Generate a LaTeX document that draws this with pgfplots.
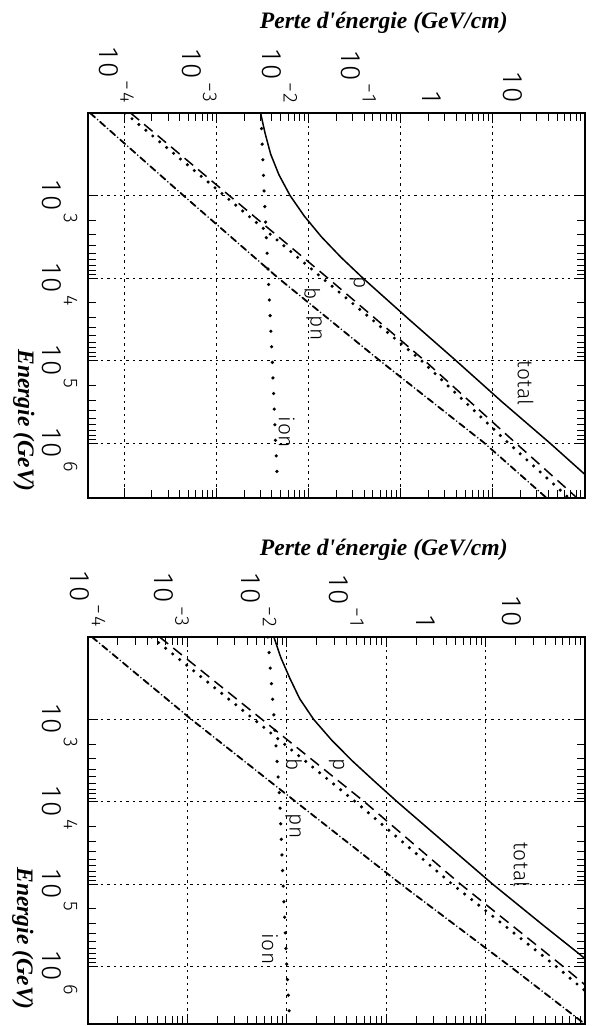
\documentclass[border=0pt]{standalone}
\usepackage{fontspec}
\setmainfont{Liberation Serif}
\newfontfamily\tickfam{Fira Sans Light}[LetterSpace=10]
\newfontfamily\curvefam{Fira Sans Light}[LetterSpace=3]
\usepackage{pgfplots}
\usepackage{pgfplotstable}
\pgfplotsset{compat=1.18}
\newcommand\tickfont{\tickfam\fontsize{14bp}{14bp}\selectfont}
\newcommand\sufont{\tickfam\fontsize{10bp}{10bp}\selectfont}
\newcommand\supx[1]{\raisebox{10.5bp}{\sufont\kern1.5bp#1}}
\newcommand\labfont{\fontsize{11.8bp}{12bp}\selectfont\bfseries\itshape}
\newcommand\curvefont{\curvefam\fontsize{10.5bp}{11bp}\selectfont}

% ---------- panel 1 data (E in GeV, L in GeV/cm) ----------
\pgfplotstableread{
E L
100 3.020e-3
177.8 3.388e-3
316.2 3.890e-3
562.3 4.786e-3
1000 6.310e-3
1778 9.016e-3
3162 1.380e-2
5623 2.259e-2
10000 3.890e-2
31623 0.1230
100000 0.3981
316228 1.259
1000000 4.169
3162278 13.18
}\totalA
\pgfplotstableread{
E L
100 1.175e-4
1000 1.380e-3
10000 1.622e-2
100000 0.1820
1000000 1.778
5012000 8.913
}\pairA
\pgfplotstableread{
E L
100 1.023e-4
1000 1.222e-3
10000 1.409e-2
100000 0.1679
1000000 1.479
5012000 7.244
}\bremA
\pgfplotstableread{
E L
100 4.266e-5
1000 4.395e-4
10000 4.699e-3
100000 5.943e-2
1000000 0.8128
5012000 4.169
}\phnuA
\pgfplotstableread{
E L
100 3.048e-3
1000 3.311e-3
10000 3.664e-3
100000 4.046e-3
1000000 4.395e-3
3162000 4.624e-3
}\ionA

% ---------- panel 2 data ----------
\pgfplotstableread{
E L
100 7.413e-3
177.8 8.710e-3
316.2 1.072e-2
562.3 1.349e-2
1000 1.862e-2
1778 2.818e-2
3162 4.519e-2
5623 7.586e-2
10000 0.1288
31623 0.3890
100000 1.175
316228 3.802
1000000 12.59
}\totalB
\pgfplotstableread{
E L
100 5.248e-4
1000 5.623e-3
10000 6.026e-2
100000 0.5585
1000000 6.026
5012000 29.5
}\pairB
\pgfplotstableread{
E L
100 4.365e-4
1000 4.677e-3
10000 4.898e-2
100000 0.4603
1000000 5.129
5012000 25.1
}\bremB
\pgfplotstableread{
E L
100 1.096e-4
1000 1.096e-3
10000 1.230e-2
100000 0.1403
1000000 1.766
5012000 10.0
}\phnuB
\pgfplotstableread{
E L
100 6.457e-3
1000 7.464e-3
10000 8.511e-3
100000 9.183e-3
1000000 1.000e-2
5012000 1.072e-2
}\ionB

\tikzset{
  ctot/.style={black, line width=0.75bp},
  cpair/.style={black, line width=0.75bp, dash pattern=on 5.5bp off 3.3bp},
  cbrem/.style={black, line width=1.7bp, line cap=round, dash pattern=on 0bp off 4.5bp},
  cphnu/.style={black, line width=0.9bp, line cap=round, dash pattern=on 3.3bp off 1.7bp on 0bp off 1.7bp},
  cion/.style={black, line width=1.8bp, line cap=round, dash pattern=on 0bp off 7.8bp},
}

\begin{document}
\begin{tikzpicture}
\useasboundingbox (0,0) rectangle (298bp,-513bp);

% ---------------- panel 1 ----------------
\begin{axis}[at={(44bp,-56.5bp)}, anchor=north west,
    scale only axis, width=248.5bp, height=192.5bp,
    xmode=log, ymode=log, y dir=reverse,
    xmin=4.05e-5, xmax=10, ymin=100, ymax=4.62e6,
    axis line style={line width=0.8bp},
    tick style={black, line width=0.45bp},
    major tick length=5bp, minor tick length=4bp,
    tick align=inside, tick pos=both,
    xtick={1e-4,1e-3,1e-2,1e-1,1,10},
    xticklabels={},
    ytick={1e3,1e4,1e5,1e6},
    yticklabels={10\rlap{\supx{3}},10\rlap{\supx{4}},10\rlap{\supx{5}},10\rlap{\supx{6}}},
    yticklabel style={font=\tickfont, xshift=-22.5bp, rotate=-90, anchor=base, inner sep=0pt},
    xticklabel pos=right,
    xticklabel style={font=\tickfont, yshift=5bp, rotate=-90, anchor=east, inner sep=0pt},
    grid=major,
    major grid style={black, line width=0.4bp, dash pattern=on 1.2bp off 2bp},
    extra x ticks={8.23e-5,6.53e-4,4.86e-3,3.49e-2,0.2183,1.648},
    extra x tick labels={10\supx{−4},10\supx{−3},10\supx{−2},10\supx{−1},1,10},
    extra x tick style={grid=none, major tick length=0pt},
  ]
\addplot[ctot] table[x=L,y=E] {\totalA};
\addplot[cpair] table[x=L,y=E] {\pairA};
\addplot[cbrem] table[x=L,y=E] {\bremA};
\addplot[cphnu] table[x=L,y=E] {\phnuA};
\addplot[cion] table[x=L,y=E] {\ionA};
\end{axis}

% ---------------- panel 2 ----------------
\begin{axis}[at={(44bp,-318.5bp)}, anchor=north west,
    scale only axis, width=248.5bp, height=193.5bp,
    xmode=log, ymode=log, y dir=reverse,
    xmin=1e-4, xmax=10, ymin=100, ymax=5e6,
    axis line style={line width=0.8bp},
    tick style={black, line width=0.45bp},
    major tick length=5bp, minor tick length=4bp,
    tick align=inside, tick pos=both,
    xtick={1e-4,1e-3,1e-2,1e-1,1,10},
    xticklabels={},
    ytick={1e3,1e4,1e5,1e6},
    yticklabels={10\rlap{\supx{3}},10\rlap{\supx{4}},10\rlap{\supx{5}},10\rlap{\supx{6}}},
    yticklabel style={font=\tickfont, xshift=-22.5bp, rotate=-90, anchor=base, inner sep=0pt},
    xticklabel pos=right,
    xticklabel style={font=\tickfont, yshift=5bp, rotate=-90, anchor=east, inner sep=0pt},
    grid=major,
    major grid style={black, line width=0.4bp, dash pattern=on 1.2bp off 2bp},
    extra x ticks={1.0e-4,6.92e-4,5.25e-3,3.98e-2,0.2512,1.820},
    extra x tick labels={10\supx{−4},10\supx{−3},10\supx{−2},10\supx{−1},1,10},
    extra x tick style={grid=none, major tick length=0pt},
  ]
\addplot[ctot] table[x=L,y=E] {\totalB};
\addplot[cpair] table[x=L,y=E] {\pairB};
\addplot[cbrem] table[x=L,y=E] {\bremB};
\addplot[cphnu] table[x=L,y=E] {\phnuB};
\addplot[cion] table[x=L,y=E] {\ionB};
\end{axis}

% axis titles
\node[anchor=base east, inner sep=0pt, font=\labfont] at (254bp,-14bp) {Perte d\textquotesingle énergie (GeV/cm)};
\node[anchor=base east, inner sep=0pt, font=\labfont] at (254bp,-277.5bp) {Perte d\textquotesingle énergie (GeV/cm)};
\node[rotate=-90, anchor=base east, inner sep=0pt, font=\labfont] at (9bp,-246bp) {Energie (GeV)};
\node[rotate=-90, anchor=base east, inner sep=0pt, font=\labfont] at (8.5bp,-505bp) {Energie (GeV)};

% curve labels, panel 1
\node[rotate=-90, inner sep=0pt, font=\curvefont] at (178.7bp,-141.2bp) {p};
\node[rotate=-90, inner sep=0pt, font=\curvefont] at (156.2bp,-146.6bp) {b};
\node[rotate=-90, inner sep=0pt, font=\curvefont] at (157bp,-164bp) {pn};
\node[rotate=-90, inner sep=0pt, font=\curvefont] at (262.8bp,-191.6bp) {total};
\node[rotate=-90, inner sep=0pt, font=\curvefont] at (143.3bp,-216.2bp) {ion};
% curve labels, panel 2
\node[rotate=-90, inner sep=0pt, font=\curvefont] at (168.3bp,-382.5bp) {p};
\node[rotate=-90, inner sep=0pt, font=\curvefont] at (147bp,-382.5bp) {b};
\node[rotate=-90, inner sep=0pt, font=\curvefont] at (146.5bp,-413bp) {pn};
\node[rotate=-90, inner sep=0pt, font=\curvefont] at (260.8bp,-432.5bp) {total};
\node[rotate=-90, inner sep=0pt, font=\curvefont] at (135bp,-474.5bp) {ion};
\end{tikzpicture}
\end{document}
